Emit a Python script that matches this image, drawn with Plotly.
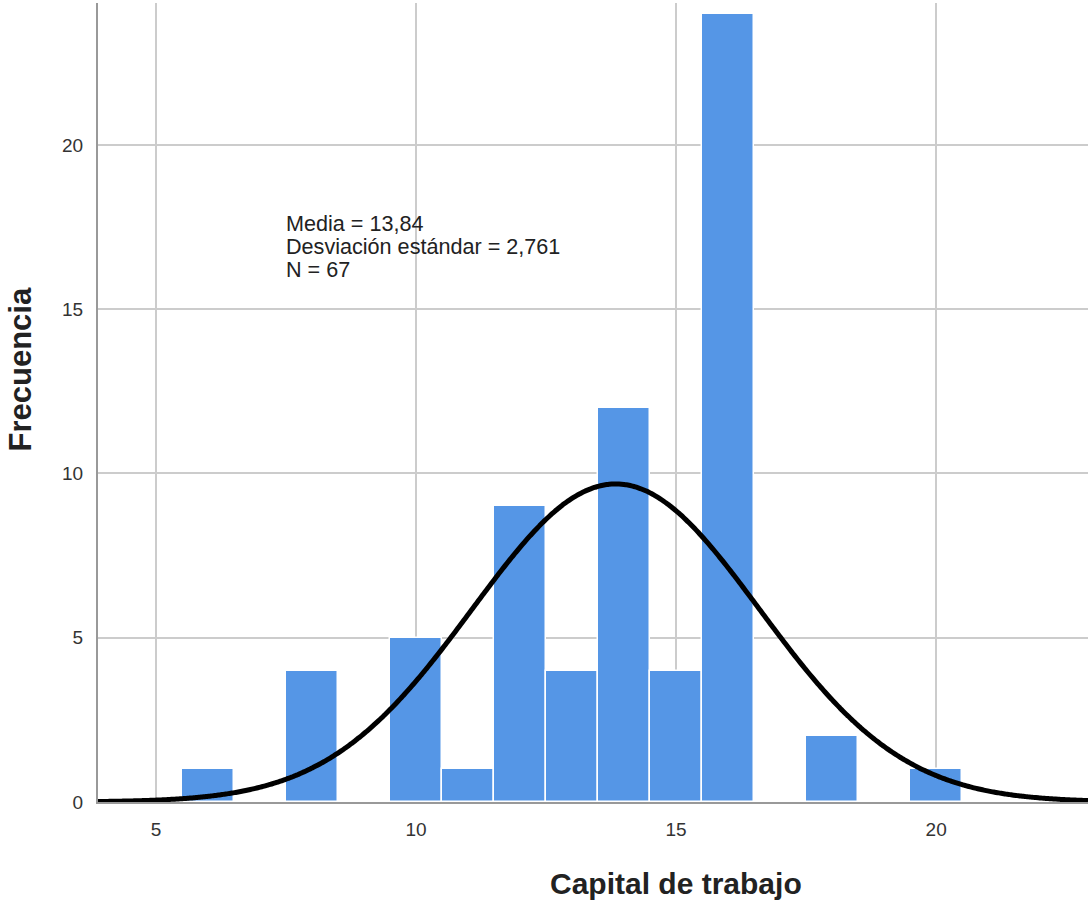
import numpy as np
import plotly.graph_objects as go

# Data
bin_centers = [6, 8, 10, 11, 12, 13, 14, 15, 16, 18, 20]
frequencies = [1, 4, 5, 1, 9, 4, 12, 4, 24, 2, 1]
mean_val = 13.84
sd_val = 2.761
n_obs = 67
x_ticks = [5, 10, 15, 20]
y_ticks = [0, 5, 10, 15, 20]
stats_lines = [
    f"Media = {mean_val:.2f}".replace(".", ","),
    f"Desviación estándar = {sd_val:.3f}".replace(".", ","),
    f"N = {n_obs}",
]

x_min, x_max = 3.885, 22.92
y_max = 24.32

W, H = 1088, 902
ML, MR, MT, MB = 98, 0, 3, 100

# Normal curve scaled to counts (bin width 1)
xc = np.linspace(x_min, x_max, 400)
yc = n_obs * 1.0 / (sd_val * np.sqrt(2 * np.pi)) * np.exp(-0.5 * ((xc - mean_val) / sd_val) ** 2)

fig = go.Figure()
fig.add_trace(go.Bar(
    x=bin_centers, y=frequencies, width=1.0,
    marker=dict(color="#5596E6", line=dict(color="white", width=1.5)),
    showlegend=False,
))
fig.add_trace(go.Scatter(
    x=xc, y=yc, mode="lines",
    line=dict(color="black", width=5, shape="spline"),
    showlegend=False,
))

fig.update_layout(
    width=W, height=H,
    margin=dict(l=ML, r=MR, t=MT, b=MB),
    plot_bgcolor="white", paper_bgcolor="white",
    font=dict(family="Liberation Sans, Arial, sans-serif", size=19, color="#222"),
    bargap=0,
)
fig.update_xaxes(
    range=[x_min, x_max], tickvals=x_ticks, ticktext=[str(v) for v in x_ticks],
    showgrid=True, gridcolor="#cccccc", gridwidth=2,
    showline=True, linecolor="#999999", linewidth=2,
    zeroline=False, ticks="", ticklabelstandoff=9,
    tickfont=dict(size=19, color="#333"),
)
fig.update_yaxes(
    range=[0, y_max], tickvals=y_ticks, ticktext=[str(v) for v in y_ticks],
    showgrid=True, gridcolor="#cccccc", gridwidth=2,
    showline=True, linecolor="#999999", linewidth=2,
    zeroline=False, ticks="", ticklabelstandoff=9,
    tickfont=dict(size=19, color="#333"),
)


def px2paper(px, py):
    return (px - ML) / (W - ML - MR), 1 - (py - MT) / (H - MT - MB)


# statistics box lines
for i, line in enumerate(stats_lines):
    ax, ay = px2paper(284, 223 + 23 * i)
    fig.add_annotation(
        x=ax, y=ay, xref="paper", yref="paper", xanchor="left", yanchor="middle",
        text=line, showarrow=False, align="left",
        font=dict(size=21.6, color="#222"),
    )

ax, ay = px2paper(676, 902)
fig.add_annotation(
    x=ax, y=ay, xref="paper", yref="paper", text="<b>Capital de trabajo</b>",
    showarrow=False, font=dict(size=30, color="#222"), yanchor="bottom",
    yshift=0,
)
ax, ay = px2paper(0, 370)
fig.add_annotation(
    x=ax, y=ay, xref="paper", yref="paper", text="<b>Frecuencia</b>",
    showarrow=False, textangle=-90, font=dict(size=31, color="#222"),
)

fig.write_html(
    "out.html",
    config={"displayModeBar": False},
    post_script="document.body.style.margin='0';document.body.style.padding='0';",
)
